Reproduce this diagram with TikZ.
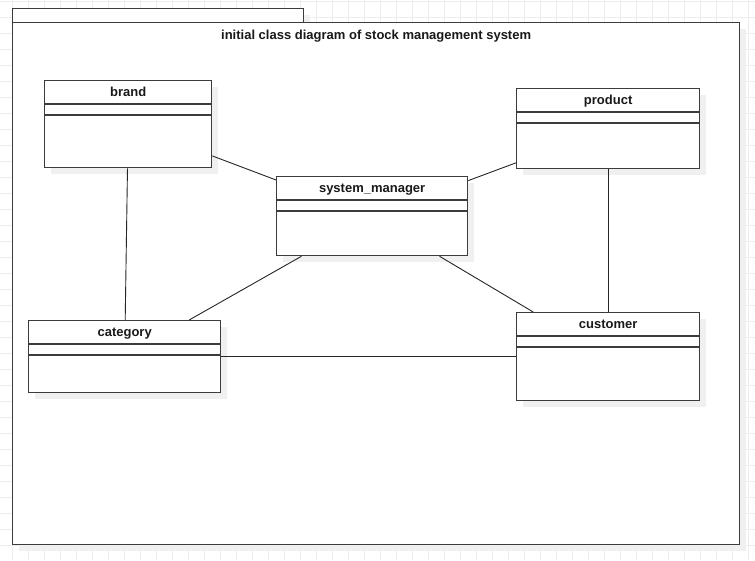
\documentclass[tikz,border=0pt]{standalone}
\usepackage{fontspec}
\setmainfont{Liberation Sans}
\usetikzlibrary{calc}
\definecolor{gridc}{HTML}{EDEDED}
\definecolor{shadowc}{HTML}{F0F0F0}
\definecolor{linec}{HTML}{3C3C3C}
\tikzset{
  classbox/.style={draw=linec, line width=1.3pt, fill=white, inner sep=0pt, anchor=north west},
  classname/.style={font=\fontsize{13}{15}\selectfont\bfseries, text=black!90, inner sep=0pt},
  divider/.style={draw=linec, line width=1.3pt},
  assoc/.style={draw=black!85, line width=0.9pt},
  shadowbox/.style={fill=shadowc, draw=none}
}
\newcommand{\umlclass}[6]{%
  % #1 name, #2 label, #3 x, #4 y, #5 w, #6 h
  \fill[shadowbox] (#3+7,#4+7) rectangle ++(#5,#6);
  \node[classbox, minimum width=#5pt, minimum height=#6pt] (#1) at (#3,#4) {};
  \node[classname, anchor=base] (#1-t) at ($(#1.north)+(0,16.5)$) {#2};
  \draw[divider] ($(#1.north west)+(0,24)$) -- ($(#1.north east)+(0,24)$);
  \draw[divider] ($(#1.north west)+(0,35)$) -- ($(#1.north east)+(0,35)$);
}
\begin{document}
\begin{tikzpicture}[x=1pt,y=-1pt]
\useasboundingbox (0,0) rectangle (755,560);
\fill[white] (0,0) rectangle (755,560);
% grid
\foreach \gx in {12,28,...,748} \draw[gridc, line width=0.8pt] (\gx,0) -- (\gx,560);
\foreach \gy in {1,17,...,560} \draw[gridc, line width=0.8pt] (0,\gy) -- (755,\gy);
% package frame
\fill[shadowbox] (19,15) rectangle (310,29);
\fill[shadowbox] (19,29) rectangle (746,551);
\node[draw=linec, line width=1.3pt, fill=white, inner sep=0pt, anchor=north west, minimum width=291pt, minimum height=14pt] (tab) at (12,8) {};
\node[draw=linec, line width=1.3pt, fill=white, inner sep=0pt, anchor=north west, minimum width=727pt, minimum height=522pt] (frame) at (12,22) {};
\node[classname, anchor=base] (title) at ($(frame.north)+(0,17.5)$) {initial class diagram of stock management system};
% classes
\umlclass{brand}{brand}{44}{80}{167}{87}
\umlclass{product}{product}{516}{88}{183}{80}
\umlclass{sm}{system\_manager}{276}{176}{191}{79}
\umlclass{category}{category}{28}{320}{192}{72}
\umlclass{customer}{customer}{516}{312}{183}{88}
% associations
\draw[assoc] (brand) -- (sm);
\draw[assoc] (product) -- (sm);
\draw[assoc] (brand) -- (category);
\draw[assoc] (product) -- (customer);
\draw[assoc] (sm) -- (category);
\draw[assoc] (sm) -- (customer);
\draw[assoc] (category) -- (customer);
\end{tikzpicture}
\end{document}
